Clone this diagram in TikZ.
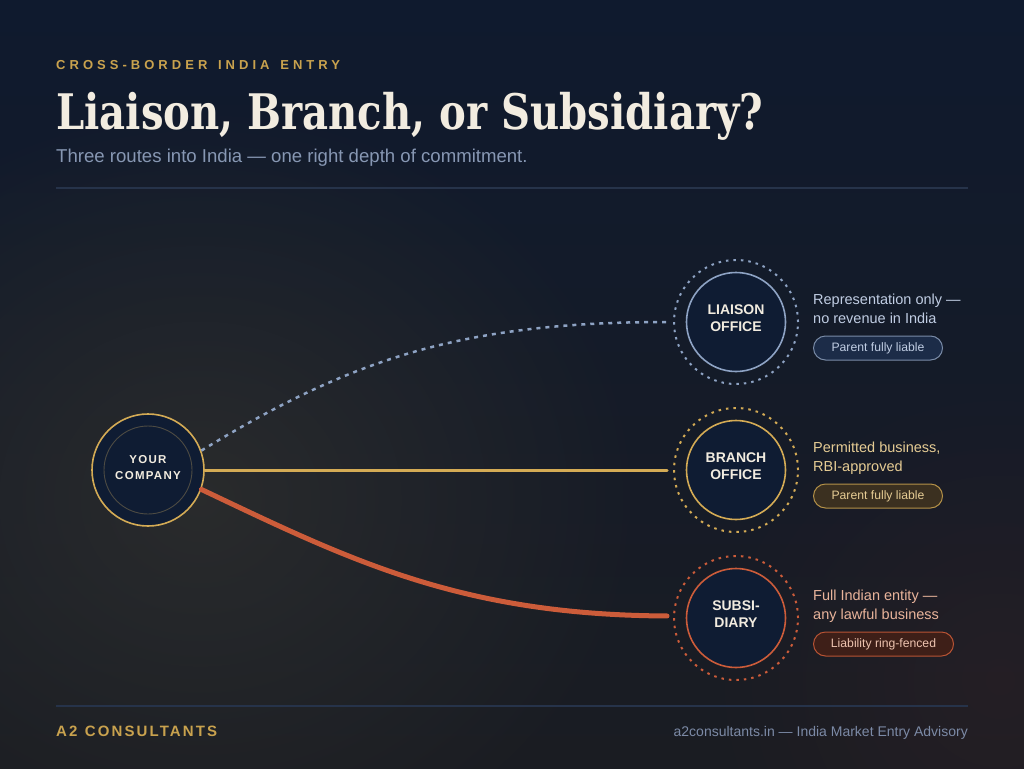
\documentclass[tikz,border=0pt]{standalone}
\usepackage{fontspec}
\setmainfont{Liberation Sans}
\newfontfamily\titlefont{DejaVu Serif}[FakeStretch=0.82]
\newfontfamily\kickerfont{Liberation Sans}[LetterSpace=31, WordSpace=1.4]
\newfontfamily\brandfont{Liberation Sans}[LetterSpace=14, WordSpace=1.2]
\newfontfamily\youfont{Liberation Sans}[LetterSpace=11]
\usetikzlibrary{calc,fadings}
\tikzfading[name=glowfade, inner color=transparent!0, outer color=transparent!100]
\newcommand\pxsize[2]{\fontsize{#1}{#2}\selectfont}
\definecolor{bgTop}{HTML}{0F1A2E}
\definecolor{bgBot}{HTML}{1A1C22}
\definecolor{glowC}{HTML}{2C2D2D}
\definecolor{warmC}{HTML}{3A2428}
\definecolor{goldC}{HTML}{D4AB55}
\definecolor{kickerC}{HTML}{C9A24E}
\definecolor{creamC}{HTML}{F2ECE0}
\definecolor{subC}{HTML}{8797B3}
\definecolor{ruleC}{HTML}{26334A}
\definecolor{footC}{HTML}{7C8AA6}
\definecolor{coreFill}{HTML}{0F1C33}
\definecolor{steelC}{HTML}{8EA3C4}
\definecolor{rustC}{HTML}{CC5C3A}
\definecolor{youInner}{HTML}{4D4B43}
\definecolor{liaisonTxt}{HTML}{C0CDE3}
\definecolor{branchTxt}{HTML}{E6CC94}
\definecolor{subTxt}{HTML}{E9B49B}
\definecolor{liaisonBg}{HTML}{1C2C48}
\definecolor{branchBg}{HTML}{3B3020}
\definecolor{subBg}{HTML}{3E1F18}
\tikzset{
  coreS/.style ={circle, draw=#1, fill=coreFill, line width=1.6pt, minimum size=99pt, inner sep=0pt},
  haloS/.style ={circle, draw=#1, line width=2pt, dash pattern=on 2.5pt off 5pt, minimum size=124pt, inner sep=0pt},
  coreTxt/.style={align=center, inner sep=0pt, text=creamC, font={\bfseries\pxsize{14}{17}}},
  descS/.style ={anchor=north west, align=left, inner sep=0pt, text=#1, font={\pxsize{14.5}{19}}},
  badge/.style  ={anchor=west, rectangle, rounded corners=12pt, minimum height=24pt, line width=1pt,
                  inner sep=0pt, font={\pxsize{12.2}{14}}},
  ruleS/.style  ={draw=ruleC, line width=1.2pt},
}

\begin{document}
\begin{tikzpicture}[x=1pt, y=-1pt]
  % backdrop
  \useasboundingbox (0,0) rectangle (1024,768);
  \shade[top color=bgTop, bottom color=bgBot] (0,0) rectangle (1024,768);
  \fill[glowC, path fading=glowfade, opacity=0.9] (-250,100) rectangle (650,900);
  \fill[warmC, path fading=glowfade, opacity=0.35] (700,380) rectangle (1300,980);

  % heading
  \node[anchor=base west, inner sep=0pt, text=kickerC, font={\kickerfont\bfseries\pxsize{13}{15}}] (kicker) at (56,70) {CROSS-BORDER INDIA ENTRY};
  \node[anchor=base west, inner sep=0pt, text=creamC, font={\titlefont\bfseries\pxsize{49}{55}}] (title) at (56,129) {Liaison, Branch, or Subsidiary?};
  \node[anchor=base west, inner sep=0pt, text=subC, font={\pxsize{18.6}{22}}] (subtitle) at (56,162) {Three routes into India — one right depth of commitment.};
  \draw[ruleS] (56,188) -- (968,188);

  % entities
  \node[coreS=goldC, minimum size=112pt] (you) at (148,470) {};
  \draw[youInner, line width=0.9pt] (you) circle (44);
  \node[coreTxt, font={\youfont\bfseries\pxsize{11.5}{16.7}}] (youT) at ($(you)+(0,-2.5)$) {YOUR\\COMPANY};

  \node[haloS=steelC] (liaisonH) at (736,322) {};
  \node[coreS=steelC] (liaison) at (liaisonH) {};
  \node[coreTxt] (liaisonT) at ($(liaison)+(0,-4)$) {LIAISON\\OFFICE};

  \node[haloS=goldC] (branchH) at (736,470) {};
  \node[coreS=goldC] (branch) at (branchH) {};
  \node[coreTxt] (branchT) at ($(branch)+(0,-4)$) {BRANCH\\OFFICE};

  \node[haloS=rustC] (subH) at (736,618) {};
  \node[coreS=rustC] (sub) at (subH) {};
  \node[coreTxt] (subT) at ($(sub)+(0,-4)$) {SUBSI-\\DIARY};

  % routes
  \draw[steelC, line width=2.5pt, dash pattern=on 4pt off 5pt, shorten >=6pt]
    (you.20) .. controls (350,360) and (460,322) .. (liaisonH.west);
  \draw[goldC, line width=3pt, line cap=round, shorten >=6pt] (you.east) -- (branchH.west);
  \draw[rustC, line width=5pt, line cap=round, shorten >=6pt]
    (you.-20) .. controls (350,560) and (460,615) .. ($(subH.west)+(0,-2)$);

  % descriptions
  \node[descS=liaisonTxt] (liaisonD) at (813,293.5) {Representation only —\\no revenue in India};
  \node[badge, draw=steelC!85!black, fill=liaisonBg, text=liaisonTxt, minimum width=129pt] (liaisonB) at (813,348) {Parent fully liable};

  \node[descS=branchTxt] (branchD) at (813,441.5) {Permitted business,\\RBI-approved};
  \node[badge, draw=goldC!85!black, fill=branchBg, text=branchTxt, minimum width=129pt] (branchB) at (813,496) {Parent fully liable};

  \node[descS=subTxt] (subD) at (813,589.5) {Full Indian entity —\\any lawful business};
  \node[badge, draw=rustC!90!black, fill=subBg, text=subTxt!80!white, minimum width=140pt] (subB) at (813,644) {Liability ring-fenced};

  % footer
  \draw[ruleS] (56,706) -- (968,706);
  \node[anchor=base west, inner sep=0pt, text=kickerC, font={\brandfont\bfseries\pxsize{15}{17}}] (brand) at (56,736) {A2 CONSULTANTS};
  \node[anchor=base east, inner sep=0pt, text=footC, font={\pxsize{14}{16}}] (site) at (968,736) {a2consultants.in — India Market Entry Advisory};
\end{tikzpicture}
\end{document}
